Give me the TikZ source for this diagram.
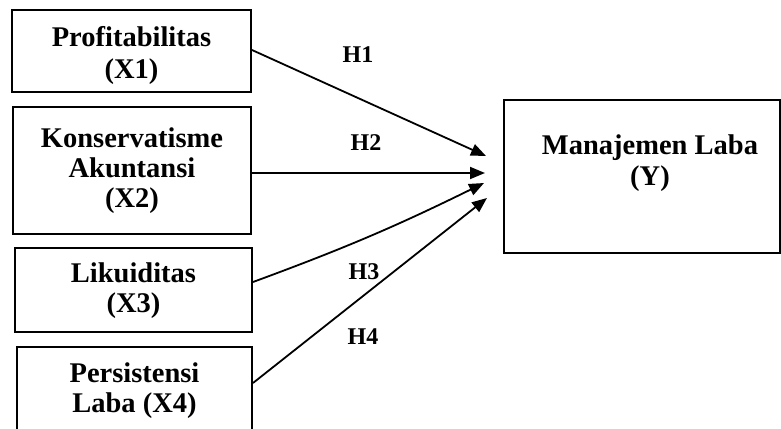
\documentclass[tikz,border=0pt]{standalone}
\usepackage{fontspec}
\setmainfont{Liberation Serif}
\usetikzlibrary{arrows.meta}
\tikzset{
  box/.style={draw=black, line width=2pt, rectangle, inner sep=0pt},
  lbl/.style={font=\fontsize{28.5}{#1}\selectfont\bfseries, align=center, inner sep=0pt},
  lbl/.default=30,
  hyp/.style={font=\fontsize{24}{27}\selectfont\bfseries, inner sep=0pt},
  arr/.style={line width=1.8pt, -{Triangle[length=15pt,width=12pt]}}
}
\begin{document}
\begin{tikzpicture}[x=1pt,y=-1pt]
\useasboundingbox (0,0) rectangle (781,428);
\clip (0,0) rectangle (781,428);
\node[box, minimum width=239pt, minimum height=82pt] (p1) at (131.5,51) {};
\node[box, minimum width=238pt, minimum height=127pt] (p2) at (132,170.5) {};
\node[box, minimum width=237pt, minimum height=84pt] (p3) at (133.5,290) {};
\node[box, minimum width=235pt, minimum height=93pt] (p4) at (134.5,393.5) {};
\node[box, minimum width=276pt, minimum height=153pt] (y) at (642,176.5) {};
\node[lbl=32] (t1) at (131.5,55.5) {Profitabilitas\\(X1)};
\node[lbl=30] (t2) at (132,170.5) {Konservatisme\\Akuntansi\\(X2)};
\node[lbl=29.5] (t3) at (133.5,290.5) {Likuiditas\\(X3)};
\node[lbl=30] (t4) at (134.5,391) {Persistensi\\Laba (X4)};
\node[lbl=31] (ty) at (650,163.5) {Manajemen Laba\\(Y)};
\coordinate (e1) at (486,156);
\coordinate (e2) at (485,173);
\coordinate (e3) at (484,183);
\coordinate (e4) at (487,198);
\draw[arr] ([yshift=1pt]p1.east) -- (e1);
\draw[arr] ([yshift=-2.5pt]p2.east) -- (e2);
\draw[arr] ([yshift=8pt]p3.east) to[bend right=3] (e3);
\draw[arr] ([yshift=10.5pt]p4.east) -- (e4);
\node[hyp] (h1) at (358,55) {H1};
\node[hyp] (h2) at (366,143) {H2};
\node[hyp] (h3) at (364,272) {H3};
\node[hyp] (h4) at (363,337) {H4};
\end{tikzpicture}
\end{document}
